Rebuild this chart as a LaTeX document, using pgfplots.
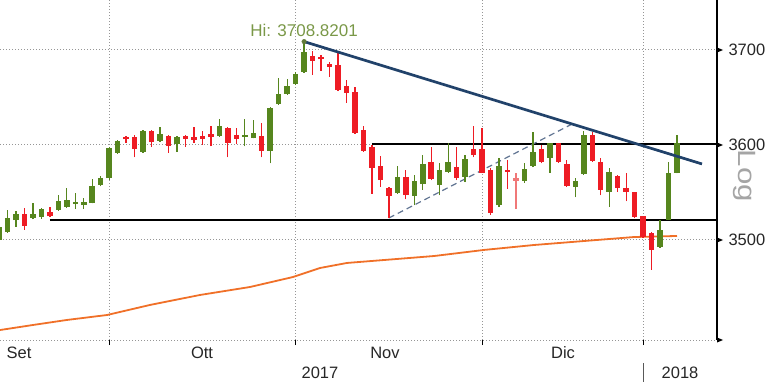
\documentclass[border=0pt]{standalone}
\usepackage{pgfplots}
\pgfplotsset{compat=1.18}
\usepackage{pgfplotstable}
\usepackage{fontspec}
\setmainfont{Liberation Sans}

\definecolor{cgreen}{RGB}{86,134,30}
\definecolor{cred}{RGB}{238,28,36}
\definecolor{cpale}{RGB}{240,120,120}
\definecolor{navy}{RGB}{33,66,106}
\definecolor{dashblue}{RGB}{95,115,145}
\definecolor{corange}{RGB}{240,112,40}
\definecolor{hicol}{RGB}{122,152,72}
\definecolor{gridgray}{RGB}{150,150,150}
\definecolor{loggray}{RGB}{165,165,165}

% i  open  high  low  close
\pgfplotstableread{
i o h l c
0 3500.0 3514.0 3498.9 3513.7
1 3508.4 3531.6 3507.5 3523.1
2 3521.0 3530.5 3513.7 3527.3
4 3523.1 3538.9 3522.0 3527.3
5 3524.2 3533.5 3522.5 3532.6
7 3531.6 3547.3 3530.5 3541.0
8 3534.7 3554.7 3534.0 3542.1
9 3537.9 3549.4 3532.6 3540.0
10 3536.8 3544.2 3532.6 3540.0
11 3538.9 3564.2 3538.5 3556.8
12 3557.9 3567.3 3556.8 3565.2
13 3565.2 3597.9 3563.1 3596.8
14 3591.6 3605.2 3590.5 3604.2
17 3592.6 3615.8 3591.6 3614.7
19 3604.2 3618.9 3603.1 3611.6
21 3601.0 3609.4 3592.6 3608.4
26 3609.4 3627.3 3608.4 3620.0
29 3608.4 3627.3 3598.9 3610.5
30 3607.3 3626.3 3607.0 3612.6
32 3593.7 3640.0 3581.0 3638.9
33 3643.1 3670.5 3642.1 3653.7
34 3653.7 3669.4 3652.6 3662.1
35 3664.2 3676.8 3663.1 3674.7
36 3676.8 3708.8 3676.0 3697.9
47 3549.4 3577.9 3548.9 3566.3
49 3546.3 3568.4 3536.8 3562.1
50 3558.9 3589.4 3552.6 3580.0
52 3557.9 3581.0 3547.3 3573.7
53 3571.5 3602.1 3570.5 3582.1
55 3566.3 3589.4 3561.0 3585.2
59 3536.8 3586.3 3534.7 3577.9
62 3562.1 3581.0 3560.0 3574.7
63 3577.9 3613.7 3576.8 3592.6
65 3586.3 3602.5 3570.5 3602.1
68 3555.8 3565.2 3545.2 3562.1
69 3569.4 3614.7 3568.4 3610.5
72 3550.5 3575.8 3534.7 3571.5
78 3492.6 3521.0 3491.6 3510.5
79 3521.0 3582.1 3520.5 3570.5
80 3570.5 3610.5 3570.0 3602.1
}\gtab

\pgfplotstableread{
i o h l c
3 3527.3 3533.7 3510.5 3514.7
6 3529.4 3534.7 3524.2 3525.2
15 3608.4 3609.4 3602.1 3605.8
16 3608.4 3610.5 3587.3 3595.8
18 3614.7 3615.8 3597.9 3603.1
20 3609.4 3610.5 3591.6 3598.9
22 3609.4 3610.5 3597.9 3606.3
23 3608.4 3618.9 3602.1 3605.2
24 3609.4 3614.7 3600.0 3606.3
25 3611.6 3620.0 3598.9 3608.4
27 3617.9 3618.5 3587.3 3602.1
28 3610.5 3617.9 3601.0 3606.3
31 3609.4 3623.1 3587.3 3593.7
37 3693.7 3698.9 3673.7 3688.4
38 3692.1 3694.2 3677.9 3690.0
39 3685.2 3687.3 3671.6 3682.1
40 3683.7 3697.9 3656.8 3657.9
41 3661.6 3667.9 3644.2 3654.7
42 3655.8 3661.0 3612.0 3612.6
43 3615.8 3620.0 3592.6 3593.7
44 3597.9 3600.0 3548.4 3575.8
45 3577.9 3588.4 3555.8 3563.1
46 3554.7 3555.5 3523.1 3546.3
48 3566.3 3573.7 3543.1 3547.3
51 3582.1 3597.9 3563.1 3564.2
54 3576.8 3597.9 3563.1 3565.2
56 3595.8 3620.0 3587.3 3589.4
57 3595.8 3617.9 3570.0 3570.5
58 3573.7 3575.8 3526.3 3528.4
60 3573.7 3584.2 3553.7 3571.5
64 3595.8 3600.0 3581.0 3582.1
66 3602.1 3602.5 3581.5 3582.1
67 3580.0 3584.2 3555.8 3556.8
70 3610.5 3613.7 3582.1 3583.1
71 3582.1 3586.3 3547.3 3552.6
73 3567.3 3568.4 3550.5 3554.7
74 3554.7 3570.5 3541.0 3550.5
75 3550.5 3551.0 3523.1 3524.2
76 3525.2 3525.5 3502.1 3503.1
77 3507.3 3508.4 3468.4 3489.5
}\rtab

\pgfplotstableread{
i o h l c
61 3565.2 3570.5 3532.6 3562.1
}\ptab

\pgfplotsset{
  candle/.style 2 args={only marks, mark size=0pt, mark options={draw=none, fill=none},
    error bars/.cd, y dir=plus, y explicit, error mark=none,
    error bar style={draw=#1, line width=#2, solid}},
}

\begin{document}
\begin{tikzpicture}
\path[use as bounding box] (0bp,-44bp) rectangle (768bp,340bp);
\begin{axis}[
  at={(0bp,0bp)}, anchor=south west,
  scale only axis, width=717bp, height=340bp,
  xmin=0.118, xmax=84.72, ymin=3394.7, ymax=3752.6,
  axis y line*=right, axis x line*=bottom,
  y axis line style={black, line width=1.2bp, -},
  x axis line style={draw=gridgray, dash pattern=on 1bp off 2bp, line width=1bp, -},
  xtick={13,35,57,76}, xticklabels={},
  ytick={3500,3600,3700}, yticklabels={3500,3600,3700},
  ytick style={draw=none},
  xtick style={black, line width=1bp},
  tick align=outside, major tick length=5bp,
  yticklabel style={xshift=3bp},
  grid=major,
  major grid style={gridgray, dash pattern=on 1bp off 2bp, line width=1bp},
  tick label style={font=\fontsize{16.5bp}{19bp}\selectfont, text=black!85},
  clip mode=individual,
]
% moving average
\addplot[corange, line width=1.8bp] coordinates {
(0.118,3405.2) (4.01,3410.5) (8.02,3415.8) (12.74,3421.0) (17.82,3431.6)
(23.72,3442.1) (29.62,3450.5) (34.69,3461.0) (37.88,3470.5) (41.06,3475.8)
(45.43,3478.9) (51.33,3483.1) (57.23,3489.5) (63.13,3494.7) (69.03,3498.9)
(74.93,3503.1) (80.0,3504.2)};
% horizontal levels
\addplot[black, line width=2bp] coordinates {(6,3521) (84.72,3521)};
\addplot[black, line width=2bp] coordinates {(44,3600.5) (84.72,3600.5)};
% dashed rising trend
\addplot[dashblue, line width=1.2bp, dash pattern=on 6bp off 4bp] coordinates {(46,3523.1) (67.85,3623.1)};
% wicks
\addplot[candle={cgreen}{1.3bp}] table[x=i, y=l, y error plus expr=\thisrow{h}-\thisrow{l}] {\gtab};
\addplot[candle={cred}{1.3bp}] table[x=i, y=l, y error plus expr=\thisrow{h}-\thisrow{l}] {\rtab};
\addplot[candle={cpale}{1.3bp}] table[x=i, y=l, y error plus expr=\thisrow{h}-\thisrow{l}] {\ptab};
% bodies
\addplot[candle={cgreen}{5.5bp}] table[x=i, y=o, y error plus expr=\thisrow{c}-\thisrow{o}] {\gtab};
\addplot[candle={cred}{5.5bp}] table[x=i, y=c, y error plus expr=\thisrow{o}-\thisrow{c}] {\rtab};
\addplot[candle={cpale}{5.5bp}] table[x=i, y=c, y error plus expr=\thisrow{o}-\thisrow{c}] {\ptab};
% falling trend line from the high
\addplot[navy, line width=2.7bp] coordinates {(36,3708.8) (82.95,3580.0)};
\addplot[only marks, mark=*, mark size=2.3bp, color=hicol!80!black] coordinates {(36,3708.8)};
\node[anchor=base, yshift=5bp, text=hicol, font=\fontsize{17bp}{20bp}\selectfont]
  at (axis cs:36,3708.8) {Hi: 3708.8201};
\end{axis}
% tick pointers on the right axis
\foreach \yy in {290.0,195.0,100.0,0.0}{
  \fill[black] (717bp,\yy bp+2.5bp) -- (723bp,\yy bp) -- (717bp,\yy bp-2.5bp) -- cycle;
}
\begin{scope}[font=\fontsize{16.5bp}{19bp}\selectfont, text=black!85]
\node at (19bp,-13bp) {Set};
\node at (202bp,-13bp) {Ott};
\node at (385bp,-13bp) {Nov};
\node at (563bp,-13bp) {Dic};
\node at (320bp,-33bp) {2017};
\node at (680bp,-33bp) {2018};
\end{scope}
\draw[black!65, line width=1bp] (643bp,-23bp) -- (643bp,-42bp);
\node[rotate=-90, text=loggray, font=\fontsize{25bp}{28bp}\selectfont]
  at (744bp,164bp) {\scalebox{1.25}[1]{Log}};
\end{tikzpicture}
\end{document}
